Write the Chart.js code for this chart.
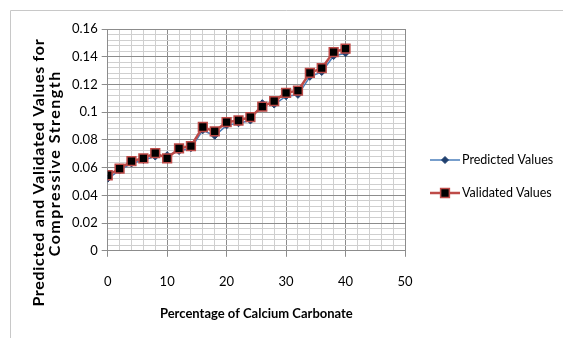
<!DOCTYPE html>
<html>
<head>
<meta charset="utf-8">
<script src="https://cdn.jsdelivr.net/npm/chart.js@4/dist/chart.umd.min.js"></script>
<style>
  html, body { margin: 0; padding: 0; background: #ffffff; }
  #wrap { width: 563px; height: 338px; position: relative; }
</style>
</head>
<body>
<div id="wrap"><canvas id="c" width="563" height="338"></canvas></div>
<script>
// ---- data ----
const calciumCarbonate = [0, 2, 4, 6, 8, 10, 12, 14, 16, 18, 20, 22, 24, 26, 28, 30, 32, 34, 36, 38, 40];
const predictedValues = [0.052, 0.058, 0.063, 0.0655, 0.068, 0.069, 0.072, 0.074, 0.087, 0.083, 0.0905, 0.092, 0.094, 0.1065, 0.1055, 0.1115, 0.1125, 0.1255, 0.129, 0.1405, 0.1425];
const validatedValues = [0.0545, 0.0592, 0.0647, 0.0667, 0.0705, 0.0667, 0.0739, 0.0755, 0.0893, 0.0862, 0.0928, 0.094, 0.0964, 0.104, 0.108, 0.114, 0.1155, 0.1283, 0.1317, 0.1434, 0.1458];
const seriesNames = ['Predicted Values', 'Validated Values'];
const xTitle = 'Percentage of Calcium Carbonate';
const yTitleLines = ['Predicted and Validated Values for', 'Compressive Strength'];
const xMajorTicks = [0, 10, 20, 30, 40, 50];
const yMajorTicks = [0, 0.02, 0.04, 0.06, 0.08, 0.1, 0.12, 0.14, 0.16];

const FONT = 'Lato, "Open Sans", sans-serif';
const MAJOR = '#8c8c8c';
const MINOR = '#cfcfcf';

function isMajor(v, step) {
  const r = v / step;
  return Math.abs(r - Math.round(r)) < 1e-6;
}

const toPoints = (ys) => calciumCarbonate.map((x, i) => ({ x: x, y: ys[i] }));

const frame = {
  id: 'frame',
  beforeDraw(chart) {
    const ctx = chart.ctx;
    ctx.save();
    ctx.strokeStyle = '#c8c8c8';
    ctx.lineWidth = 1;
    ctx.beginPath();
    ctx.moveTo(10.5, 338);
    ctx.lineTo(10.5, 10.5);
    ctx.lineTo(563, 10.5);
    ctx.stroke();
    ctx.restore();
  }
};

const yTitle = {
  id: 'yTitle',
  afterDraw(chart) {
    const ctx = chart.ctx;
    ctx.save();
    ctx.fillStyle = '#000';
    ctx.font = 'bold 16px ' + FONT;
    ctx.textAlign = 'center';
    ctx.textBaseline = 'middle';
    const layout = [[39, 173, 268], [55, 164, 186]];
    yTitleLines.forEach((t, i) => {
      ctx.save();
      ctx.letterSpacing = '0px';
      const w = ctx.measureText(t).width;
      const ls = Math.max(0, (layout[i][2] - w) / t.length);
      ctx.letterSpacing = ls.toFixed(2) + 'px';
      ctx.translate(layout[i][0], layout[i][1]);
      ctx.rotate(-Math.PI / 2);
      ctx.fillText(t, ls / 2, 0);
      ctx.restore();
    });
    ctx.restore();
  }
};

const legendPlugin = {
  id: 'customLegend',
  afterDraw(chart) {
    const ctx = chart.ctx;
    ctx.save();
    const ys = [160, 193];
    chart.data.datasets.forEach((ds, i) => {
      const y = ys[i];
      ctx.strokeStyle = ds.borderColor;
      ctx.lineWidth = ds.borderWidth;
      ctx.beginPath();
      ctx.moveTo(430, y);
      ctx.lineTo(460, y);
      ctx.stroke();
      ctx.fillStyle = ds.pointBackgroundColor;
      ctx.strokeStyle = ds.pointBorderColor;
      ctx.lineWidth = ds.pointBorderWidth;
      Chart.helpers.drawPoint(ctx, {
        pointStyle: ds.pointStyle,
        radius: ds.pointRadius,
        borderWidth: ds.pointBorderWidth,
        rotation: 0
      }, 445, y);
      ctx.fillStyle = '#000';
      ctx.font = '12.5px ' + FONT;
      ctx.textAlign = 'left';
      ctx.textBaseline = 'middle';
      ctx.fillText(ds.label, 462, y);
    });
    ctx.restore();
  }
};

new Chart(document.getElementById('c'), {
  type: 'line',
  data: {
    datasets: [
      {
        label: seriesNames[0],
        data: toPoints(predictedValues),
        borderColor: '#4a7ebb',
        borderWidth: 1.5,
        pointStyle: 'rectRot',
        pointRadius: 3.5,
        pointBackgroundColor: '#1f3f6e',
        pointBorderColor: '#1f3f6e',
        pointBorderWidth: 1,
        tension: 0,
        order: 1
      },
      {
        label: seriesNames[1],
        data: toPoints(validatedValues),
        borderColor: '#be4b48',
        borderWidth: 2.5,
        pointStyle: 'rect',
        pointRadius: 6.2,
        pointBackgroundColor: '#000000',
        pointBorderColor: '#be4b48',
        pointBorderWidth: 1.5,
        tension: 0,
        order: 0
      }
    ]
  },
  options: {
    responsive: false,
    animation: false,
    devicePixelRatio: 1,
    layout: { padding: { left: 68, right: 158, top: 29, bottom: 16 } },
    plugins: {
      legend: { display: false },
      tooltip: { enabled: false }
    },
    scales: {
      x: {
        type: 'linear',
        min: 0,
        max: 50,
        border: { color: MAJOR, width: 1 },
        grid: {
          color: (c) => isMajor(c.tick.value, 10) ? MAJOR : MINOR,
          tickColor: (c) => isMajor(c.tick.value, 10) ? MAJOR : 'rgba(0,0,0,0)',
          tickLength: 6,
          lineWidth: 1
        },
        ticks: {
          stepSize: 2,
          autoSkip: false,
          maxRotation: 0,
          padding: 17,
          color: '#000',
          font: { family: FONT, size: 13 },
          callback: (v) => xMajorTicks.some(m => Math.abs(m - v) < 1e-6) ? String(v) : ''
        },
        title: {
          display: true,
          text: xTitle,
          color: '#000',
          font: { family: FONT, size: 13, weight: 'bold' },
          padding: { top: 0, bottom: 0 }
        }
      },
      y: {
        type: 'linear',
        min: 0,
        max: 0.16,
        border: { color: MAJOR, width: 1 },
        grid: {
          color: (c) => isMajor(c.tick.value, 0.02) ? MAJOR : MINOR,
          tickColor: (c) => isMajor(c.tick.value, 0.02) ? MAJOR : 'rgba(0,0,0,0)',
          tickLength: 6,
          lineWidth: 1
        },
        ticks: {
          stepSize: 0.004,
          maxTicksLimit: 100,
          autoSkip: false,
          padding: 4,
          color: '#000',
          font: { family: FONT, size: 13 },
          callback: (v) => {
            const m = yMajorTicks.find(t => Math.abs(t - v) < 1e-6);
            return m === undefined ? '' : String(m);
          }
        }
      }
    }
  },
  plugins: [frame, yTitle, legendPlugin]
});
</script>
</body>
</html>
